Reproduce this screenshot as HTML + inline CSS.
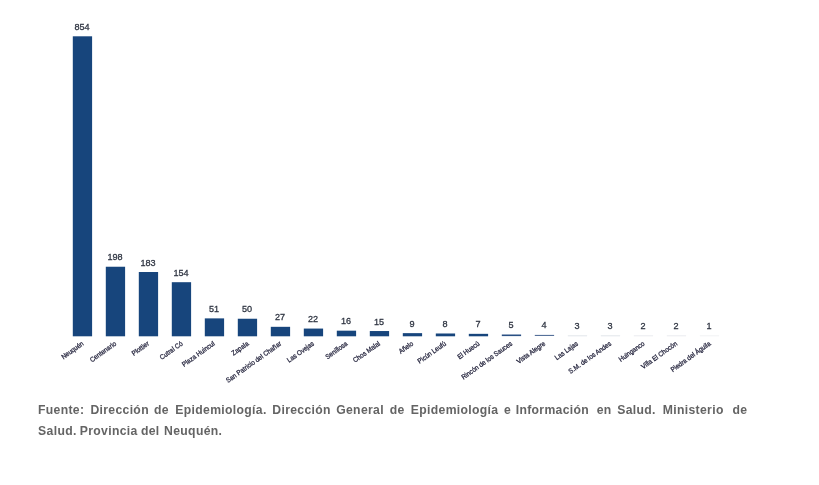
<!DOCTYPE html>
<html lang="es"><head><meta charset="utf-8"><title>Gráfico</title>
<style>
html,body{margin:0;padding:0;background:#fff;}
body{width:819px;height:485px;position:relative;overflow:hidden;font-family:"Liberation Sans",sans-serif;}
.v{position:absolute;width:40px;text-align:center;font-size:9.8px;line-height:10px;color:#2f3542;-webkit-text-stroke:0.3px #2f3542;transform:scaleX(0.93);}
.n{position:absolute;white-space:nowrap;font-size:6.9px;line-height:8px;color:#2c2c44;-webkit-text-stroke:0.3px #2c2c44;transform-origin:100% 50%;transform:rotate(-35.5deg) scaleX(0.91);text-align:right;}
.foot{font-weight:bold;font-size:12.2px;line-height:21px;color:#646464;letter-spacing:0.33px;}
.foot span{position:absolute;white-space:nowrap;}
</style></head><body>

<div class="v" style="left:61.8px;top:21.8px">854</div>
<div class="n" style="right:736.4px;top:338.8px">Neuquén</div>
<div class="v" style="left:94.8px;top:252.2px">198</div>
<div class="n" style="right:703.4px;top:338.8px">Centenario</div>
<div class="v" style="left:127.8px;top:257.5px">183</div>
<div class="n" style="right:670.4px;top:338.8px">Plottier</div>
<div class="v" style="left:160.8px;top:267.7px">154</div>
<div class="n" style="right:637.4px;top:338.8px">Cutral Có</div>
<div class="v" style="left:194.2px;top:303.9px">51</div>
<div class="n" style="right:604.4px;top:338.8px">Plaza Huincul</div>
<div class="v" style="left:227.2px;top:304.2px">50</div>
<div class="n" style="right:571.4px;top:338.8px">Zapala</div>
<div class="v" style="left:260.1px;top:312.3px">27</div>
<div class="n" style="right:538.4px;top:338.8px">San Patricio del Chañar</div>
<div class="v" style="left:293.1px;top:314.1px">22</div>
<div class="n" style="right:505.4px;top:338.8px">Las Ovejas</div>
<div class="v" style="left:326.1px;top:316.2px">16</div>
<div class="n" style="right:472.4px;top:338.8px">Senillosa</div>
<div class="v" style="left:359.1px;top:316.5px">15</div>
<div class="n" style="right:439.4px;top:338.8px">Chos Malal</div>
<div class="v" style="left:392.1px;top:318.6px">9</div>
<div class="n" style="right:406.4px;top:338.8px">Añelo</div>
<div class="v" style="left:425.1px;top:319.0px">8</div>
<div class="n" style="right:373.4px;top:338.8px">Picún Leufú</div>
<div class="v" style="left:458.1px;top:319.3px">7</div>
<div class="n" style="right:340.4px;top:338.8px">El Huecú</div>
<div class="v" style="left:491.1px;top:320.0px">5</div>
<div class="n" style="right:307.4px;top:338.8px">Rincón de los Sauces</div>
<div class="v" style="left:524.1px;top:320.4px">4</div>
<div class="n" style="right:274.4px;top:338.8px">Vista Alegre</div>
<div class="v" style="left:557.1px;top:320.7px">3</div>
<div class="n" style="right:241.4px;top:338.8px">Las Lajas</div>
<div class="v" style="left:590.1px;top:320.7px">3</div>
<div class="n" style="right:208.4px;top:338.8px">S.M. de los Andes</div>
<div class="v" style="left:623.1px;top:321.1px">2</div>
<div class="n" style="right:175.4px;top:338.8px">Huinganco</div>
<div class="v" style="left:656.1px;top:321.1px">2</div>
<div class="n" style="right:142.4px;top:338.8px">Villa El Chocón</div>
<div class="v" style="left:689.1px;top:321.2px">1</div>
<div class="n" style="right:109.4px;top:338.8px">Piedra del Águila</div>
<svg width="819" height="485" viewBox="0 0 819 485" style="position:absolute;left:0;top:0"><rect x="72.8" y="36.30" width="19.3" height="300.00" fill="#17457c"/><rect x="105.8" y="266.74" width="19.3" height="69.56" fill="#17457c"/><rect x="138.8" y="272.01" width="19.3" height="64.29" fill="#17457c"/><rect x="171.8" y="282.20" width="19.3" height="54.10" fill="#17457c"/><rect x="204.8" y="318.38" width="19.3" height="17.92" fill="#17457c"/><rect x="237.8" y="318.74" width="19.3" height="17.56" fill="#17457c"/><rect x="270.8" y="326.82" width="19.3" height="9.48" fill="#17457c"/><rect x="303.8" y="328.57" width="19.3" height="7.73" fill="#17457c"/><rect x="336.8" y="330.68" width="19.3" height="5.62" fill="#17457c"/><rect x="369.8" y="331.03" width="19.3" height="5.27" fill="#17457c"/><rect x="402.8" y="333.14" width="19.3" height="3.16" fill="#17457c"/><rect x="435.8" y="333.49" width="19.3" height="2.81" fill="#17457c"/><rect x="468.8" y="333.84" width="19.3" height="2.46" fill="#17457c"/><rect x="501.8" y="334.50" width="19.3" height="1.60" fill="#2a5084"/><rect x="534.8" y="334.90" width="19.3" height="1.00" fill="#44628f"/><rect x="567.8" y="335.30" width="19.3" height="1.00" fill="#e2e5ea"/><rect x="600.8" y="335.30" width="19.3" height="1.00" fill="#e2e5ea"/><rect x="633.8" y="335.30" width="19.3" height="1.00" fill="#eaecef"/><rect x="666.8" y="335.30" width="19.3" height="1.00" fill="#eaecef"/><rect x="699.8" y="335.30" width="19.3" height="1.00" fill="#f1f2f4"/></svg>
<div class="foot"><span style="left:38.0px;top:400.4px">Fuente:</span>
<span style="left:90.4px;top:400.4px">Dirección</span>
<span style="left:154.1px;top:400.4px">de</span>
<span style="left:175.3px;top:400.4px">Epidemiología.</span>
<span style="left:272.3px;top:400.4px">Dirección</span>
<span style="left:336.2px;top:400.4px">General</span>
<span style="left:389.8px;top:400.4px">de</span>
<span style="left:410.8px;top:400.4px">Epidemiología</span>
<span style="left:504.0px;top:400.4px">e</span>
<span style="left:515.7px;top:400.4px">Información</span>
<span style="left:596.7px;top:400.4px">en</span>
<span style="left:617.2px;top:400.4px">Salud.</span>
<span style="left:662.8px;top:400.4px">Ministerio</span>
<span style="left:732.6px;top:400.4px">de</span><br>
<span style="left:38.1px;top:421.4px">Salud.</span>
<span style="left:79.8px;top:421.4px">Provincia</span>
<span style="left:140.9px;top:421.4px">del</span>
<span style="left:164.1px;top:421.4px">Neuquén.</span></div>
</body></html>
